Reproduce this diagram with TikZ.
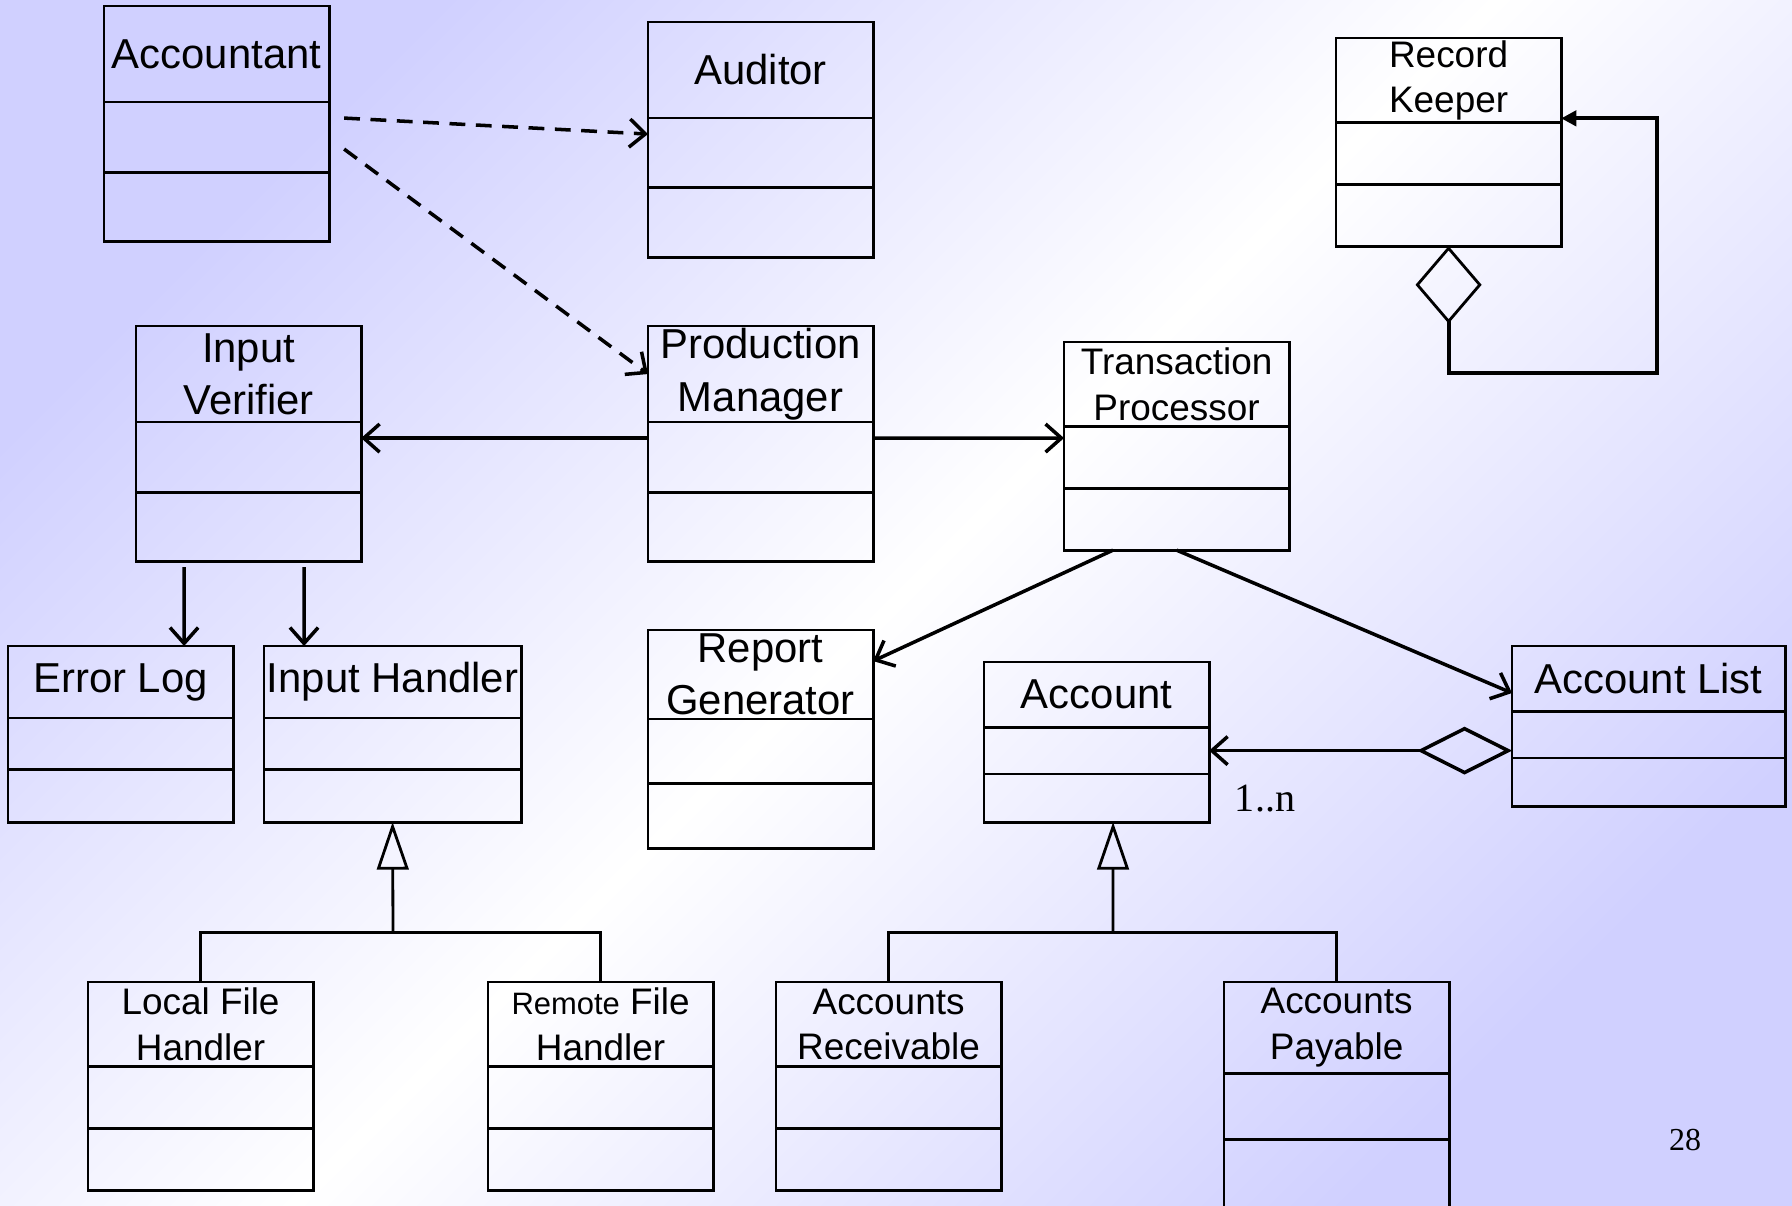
\documentclass[tikz,border=0pt]{standalone}
\usepackage{fontspec}
\setmainfont{Liberation Sans}
\newfontfamily\serifnum{Liberation Serif}
\usetikzlibrary{positioning,arrows.meta}

\definecolor{bglav}{RGB}{208,208,255}

\tikzset{
  cls/.style={draw, line width=0.8pt, inner sep=0pt, outer sep=0pt, minimum width=2.25cm, align=center, font=\fontsize{11.9}{14.9}\selectfont},
  smalltext/.style={font=\fontsize{10.5}{12.9}\selectfont},
  assoc/.style={-{Straight Barb[length=4.5pt,width=8pt]}, line width=1pt},
  dep/.style={assoc, dash pattern=on 4.5pt off 3pt},
  gen/.style={-{Triangle[open,length=13.5pt,width=9pt,line width=0.8pt]}, line width=0.8pt},
}

\begin{document}
\begin{tikzpicture}[x=0.01cm, y=-0.01cm]
  \clip (0,0) rectangle (1792,1205);
  \shade[top color=bglav, bottom color=bglav, middle color=white, shading angle=45] (0,0) rectangle (1792,1205);

  \node[cls, anchor=north west, minimum height=0.96cm] (acc) at (104,6) {Accountant};
  \node[cls, minimum height=0.70cm, below=0pt of acc] (acc-a) {};
  \node[cls, minimum height=0.69cm, below=0pt of acc-a] (acc-o) {};

  \node[cls, anchor=north west, minimum height=0.96cm] (aud) at (648,22) {Auditor};
  \node[cls, minimum height=0.69cm, below=0pt of aud] (aud-a) {};
  \node[cls, minimum height=0.70cm, below=0pt of aud-a] (aud-o) {};

  \node[cls, smalltext, anchor=north west, minimum height=0.846cm] (rk) at (1336,38) {Record\\Keeper};
  \node[cls, minimum height=0.617cm, below=0pt of rk] (rk-a) {};
  \node[cls, minimum height=0.617cm, below=0pt of rk-a] (rk-o) {};

  \node[cls, anchor=north west, minimum height=0.96cm] (iv) at (136,326) {Input\\Verifier};
  \node[cls, minimum height=0.70cm, below=0pt of iv] (iv-a) {};
  \node[cls, minimum height=0.69cm, below=0pt of iv-a] (iv-o) {};

  \node[cls, anchor=north west, minimum height=0.96cm] (pm) at (648,326) {Production\\Manager};
  \node[cls, minimum height=0.70cm, below=0pt of pm] (pm-a) {};
  \node[cls, minimum height=0.69cm, below=0pt of pm-a] (pm-o) {};

  \node[cls, smalltext, anchor=north west, minimum height=0.846cm] (tp) at (1064,342) {Transaction\\Processor};
  \node[cls, minimum height=0.617cm, below=0pt of tp] (tp-a) {};
  \node[cls, minimum height=0.617cm, below=0pt of tp-a] (tp-o) {};

  \node[cls, anchor=north west, minimum height=0.72cm] (el) at (8,646) {Error Log};
  \node[cls, minimum height=0.514cm, below=0pt of el] (el-a) {};
  \node[cls, minimum height=0.526cm, below=0pt of el-a] (el-o) {};

  \node[cls, anchor=north west, minimum width=2.57cm, minimum height=0.72cm] (ih) at (264,646) {Input Handler};
  \node[cls, minimum width=2.57cm, minimum height=0.514cm, below=0pt of ih] (ih-a) {};
  \node[cls, minimum width=2.57cm, minimum height=0.526cm, below=0pt of ih-a] (ih-o) {};

  \node[cls, anchor=north west, minimum height=0.89cm] (rg) at (648,630) {Report\\Generator};
  \node[cls, minimum height=0.64cm, below=0pt of rg] (rg-a) {};
  \node[cls, minimum height=0.65cm, below=0pt of rg-a] (rg-o) {};

  \node[cls, anchor=north west, minimum height=0.651cm] (acct) at (984,662) {Account};
  \node[cls, minimum height=0.469cm, below=0pt of acct] (acct-a) {};
  \node[cls, minimum height=0.48cm, below=0pt of acct-a] (acct-o) {};

  \node[cls, anchor=north west, minimum width=2.73cm, minimum height=0.651cm] (al) at (1512,646) {Account List};
  \node[cls, minimum width=2.73cm, minimum height=0.469cm, below=0pt of al] (al-a) {};
  \node[cls, minimum width=2.73cm, minimum height=0.48cm, below=0pt of al-a] (al-o) {};

  \node[cls, smalltext, anchor=north west, minimum height=0.846cm] (lfh) at (88,982) {Local File\\Handler};
  \node[cls, minimum height=0.617cm, below=0pt of lfh] (lfh-a) {};
  \node[cls, minimum height=0.617cm, below=0pt of lfh-a] (lfh-o) {};

  \node[cls, smalltext, anchor=north west, minimum height=0.846cm] (rfh) at (488,982) {{\fontsize{8.8}{12.9}\selectfont Remote} File\\Handler};
  \node[cls, minimum height=0.617cm, below=0pt of rfh] (rfh-a) {};
  \node[cls, minimum height=0.617cm, below=0pt of rfh-a] (rfh-o) {};

  \node[cls, smalltext, anchor=north west, minimum height=0.846cm] (ar) at (776,982) {Accounts\\Receivable};
  \node[cls, minimum height=0.617cm, below=0pt of ar] (ar-a) {};
  \node[cls, minimum height=0.617cm, below=0pt of ar-a] (ar-o) {};

  \node[cls, smalltext, anchor=north west, minimum height=0.914cm] (ap) at (1224,982) {Accounts\\Payable};
  \node[cls, minimum height=0.663cm, below=0pt of ap] (ap-a) {};
  \node[cls, minimum height=0.8cm, below=0pt of ap-a] (ap-o) {};

  \draw[dep] ([shift={(0.15cm,-0.16cm)}]acc-a.north east) -- ([yshift=-0.16cm]aud-a.north west);
  \draw[dep] ([shift={(0.15cm,-0.47cm)}]acc-a.north east) -- (pm.west);
  \draw[assoc] ([yshift=-0.16cm]pm-a.north west) -- ([yshift=-0.16cm]iv-a.north east);
  \draw[assoc] ([yshift=-0.16cm]pm-a.north east) -- ([yshift=-0.114cm]tp-a.north west);
  \draw[assoc] ([xshift=-0.645cm, yshift=-0.06cm]iv-o.south) -- ([xshift=0.635cm]el.north);
  \draw[assoc] ([xshift=0.555cm, yshift=-0.06cm]iv-o.south) -- ([xshift=-0.885cm]ih.north);
  \draw[assoc] ([xshift=-0.635cm]tp-o.south) -- ([yshift=-0.31cm]rg.north east);
  \draw[assoc] (tp-o.south) -- ([yshift=-0.47cm]al.north west);
  \draw[{Diamond[open,length=27pt,width=13.6pt]}-{Straight Barb[length=4.5pt,width=8pt]}, line width=1pt] (acct-a.east -| al.west) -- (acct-a.east);
  \node[font=\serifnum\fontsize{11.4}{13}\selectfont] (mult) at (1265,799) {1..n};

  \coordinate (rkturn) at (1657,372.6);
  \draw[{Diamond[open,length=22pt,width=18.8pt,line width=0.8pt]}-{Triangle[length=4.3pt,width=4.3pt]}, line width=1.1pt] (rk-o.south) |- (rkturn) |- ([yshift=0.043cm]rk-a.north east);

  \coordinate (ihj) at (393,932.6);
  \draw[line width=0.8pt] (lfh.north) |- (ihj) -| (rfh.north);
  \draw[gen] (ihj) -- (ih-o.south);

  \coordinate (acj) at (1113,932.6);
  \draw[line width=0.8pt] (ar.north) |- (acj) -| (ap.north);
  \draw[gen] (acj) -- ([xshift=0.165cm]acct-o.south);

  \node[font=\serifnum\fontsize{9.1}{11}\selectfont] (pgno) at (1685,1140) {28};
\end{tikzpicture}
\end{document}
